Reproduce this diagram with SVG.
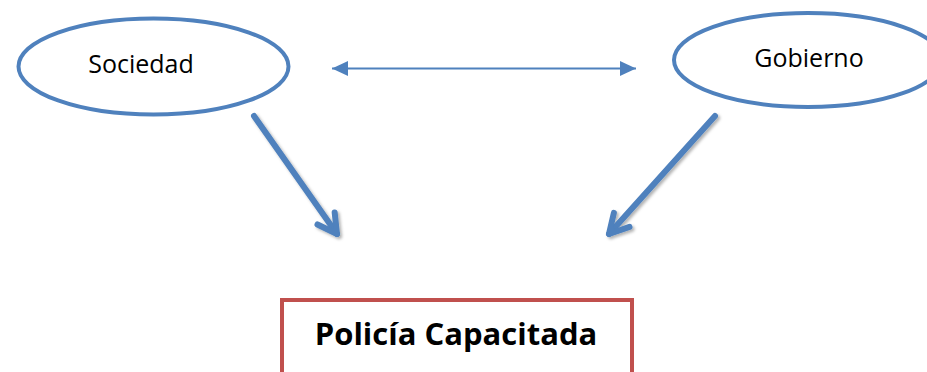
<svg xmlns="http://www.w3.org/2000/svg" width="927" height="372" viewBox="0 0 927 372">
  <style>
    .node { fill: #ffffff; stroke: #4F81BD; stroke-width: 4; }
    .label { font-family: "Open Sans", "Liberation Sans", sans-serif; font-size: 25px; fill: #000000; text-anchor: middle; }
    .title { font-family: "Open Sans", "Liberation Sans", sans-serif; font-size: 31px; font-weight: bold; fill: #000000; text-anchor: middle; }
    .box { fill: #ffffff; stroke: #C0504D; stroke-width: 4; }
    .thin { stroke: #4F81BD; stroke-width: 2; fill: none; }
    .thick { stroke: #4F81BD; stroke-width: 6; fill: none; stroke-linecap: round; }
  </style>
  <defs>
    <marker id="tri" viewBox="-16 -8 16 16" refX="0" refY="0" markerWidth="16" markerHeight="16" markerUnits="userSpaceOnUse" orient="auto-start-reverse">
      <path d="M-16,-7.5 L0,0 L-16,7.5 Z" fill="#4F81BD"/>
    </marker>
    <marker id="chev" viewBox="-24 -14 28 28" refX="0" refY="0" markerWidth="28" markerHeight="28" markerUnits="userSpaceOnUse" orient="auto">
      <path d="M-19,-10.5 L0,0 L-19,10.5" fill="none" stroke="#4F81BD" stroke-width="6" stroke-linecap="round" stroke-linejoin="round"/>
    </marker>
    <filter id="shadow" x="-20%" y="-20%" width="140%" height="140%">
      <feDropShadow dx="2" dy="2" stdDeviation="1.5" flood-color="#000000" flood-opacity="0.3"/>
    </filter>
  </defs>

  <g id="connectors">
    <line class="thin" x1="332" y1="68.5" x2="636" y2="68.5" marker-start="url(#tri)" marker-end="url(#tri)"/>
    <line class="thick" x1="254" y1="116" x2="337" y2="234" marker-end="url(#chev)" filter="url(#shadow)"/>
    <line class="thick" x1="715" y1="116" x2="609" y2="234" marker-end="url(#chev)" filter="url(#shadow)"/>
  </g>

  <g id="sociedad">
    <ellipse class="node" cx="153.5" cy="66.5" rx="135" ry="48"/>
    <text class="label" x="141" y="73">Sociedad</text>
  </g>

  <g id="gobierno">
    <ellipse class="node" cx="808" cy="60" rx="134" ry="47"/>
    <text class="label" x="809" y="67">Gobierno</text>
  </g>

  <g id="policia">
    <rect class="box" x="282" y="300" width="350" height="90"/>
    <text class="title" x="456" y="345">Policía Capacitada</text>
  </g>
</svg>
